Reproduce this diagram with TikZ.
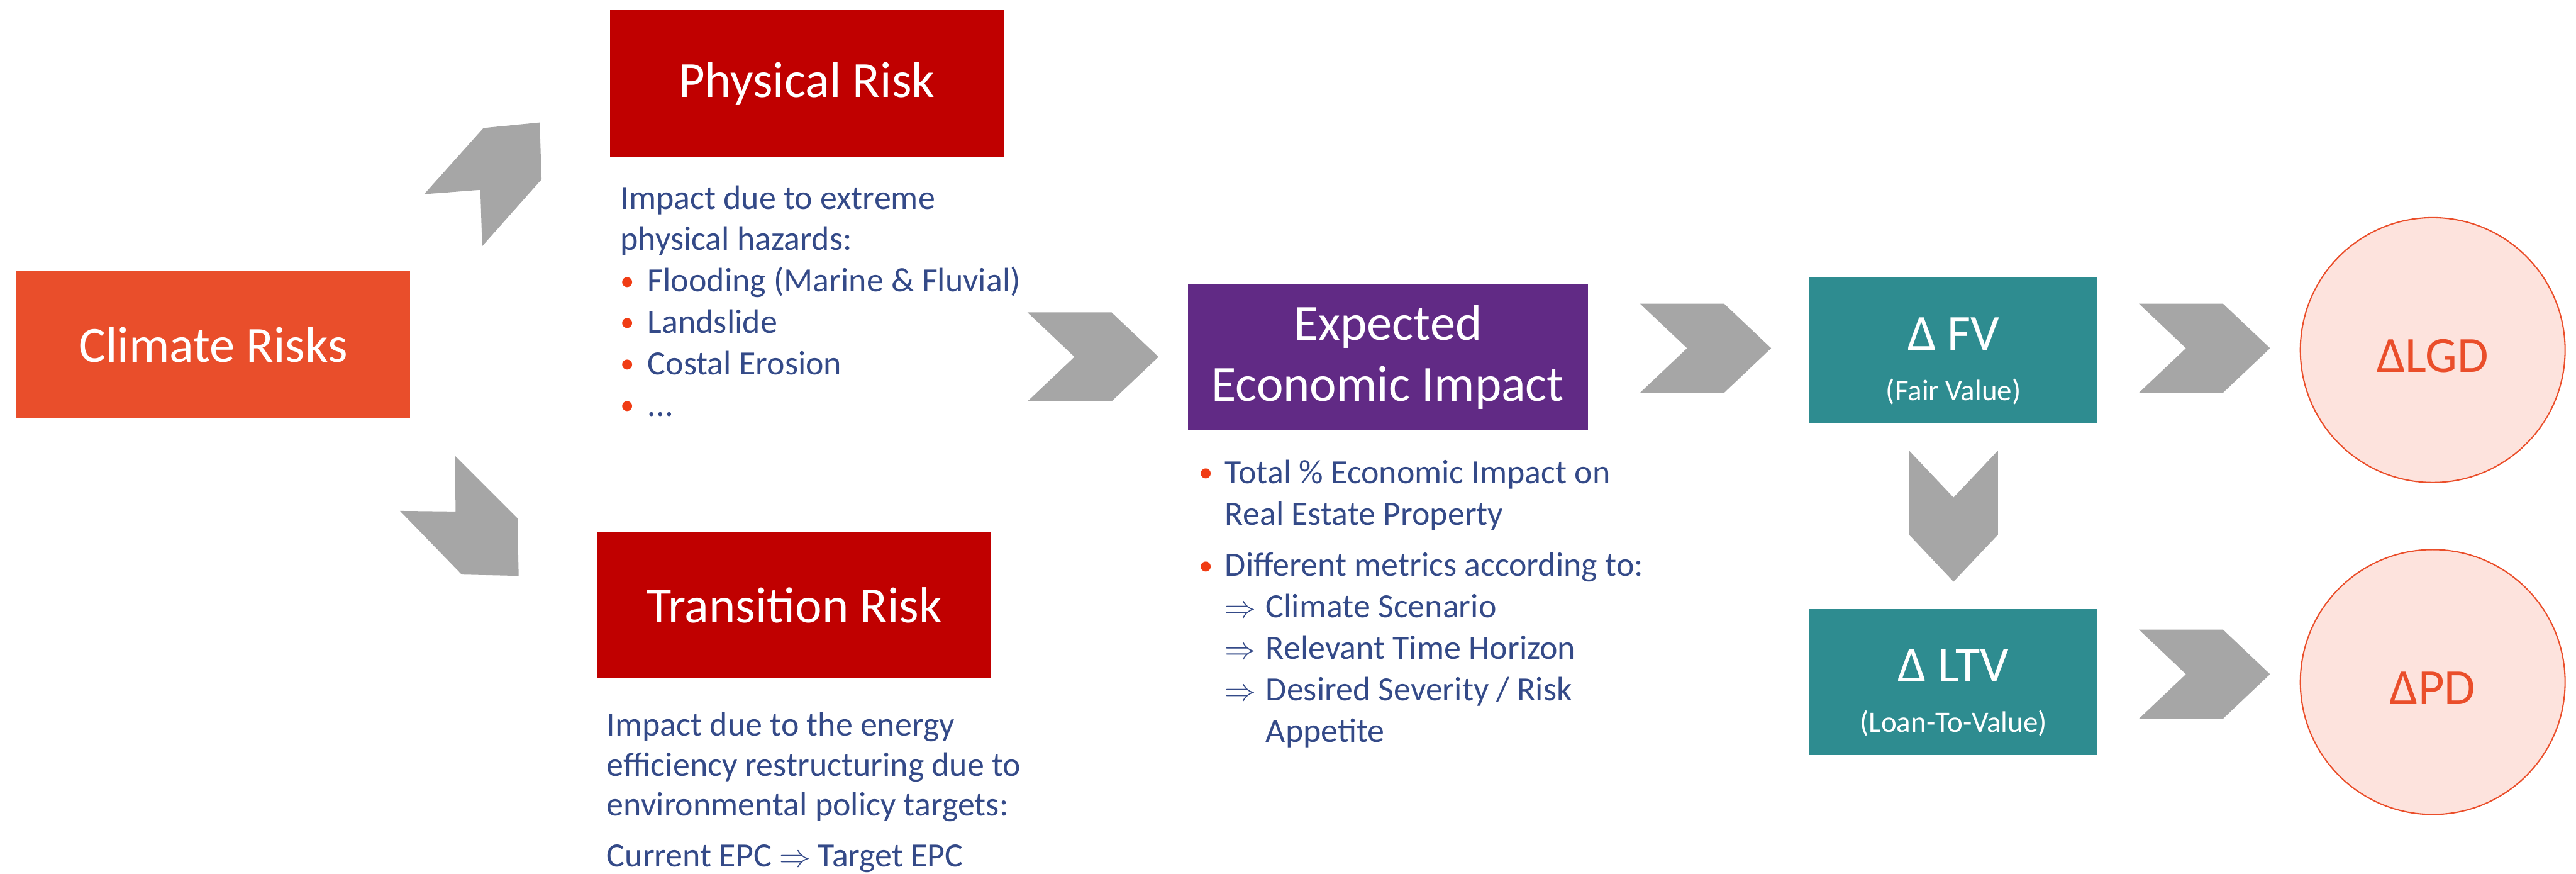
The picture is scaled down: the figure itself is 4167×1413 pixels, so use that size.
\documentclass[tikz,border=0pt]{standalone}
\usepackage{fontspec}
\setmainfont{Carlito}
\usetikzlibrary{positioning, calc}

\definecolor{climred}{HTML}{E94E2B}
\definecolor{riskred}{HTML}{C00000}
\definecolor{impurple}{HTML}{612A85}
\definecolor{valteal}{HTML}{2E8C90}
\definecolor{chevgray}{HTML}{A6A6A6}
\definecolor{txtblue}{HTML}{344A88}
\definecolor{dotred}{HTML}{F03C14}
\definecolor{cfill}{HTML}{FDE3DD}
\definecolor{cline}{HTML}{EA4E2A}

\newcommand{\titlefont}{\fontsize{23.3}{28}\selectfont}
\newcommand{\bodyfont}{\fontsize{15.6}{19.06}\selectfont}
\newcommand{\notefont}{\fontsize{13.6}{16}\selectfont}
\newcommand{\bul}[1][0.44cm]{\makebox[#1][l]{\raisebox{0.8pt}{\textcolor{dotred}{\fontsize{13}{13}\selectfont\textbullet}}}}
\newcommand{\impl}{\makebox[0.66cm][l]{$\Rightarrow$}}

\begin{document}
\begin{tikzpicture}[x=0.01cm, y=-0.01cm,
	box/.style={fill=#1, text=white, font=\titlefont, minimum width=6.36cm, minimum height=2.37cm, align=center, inner sep=0pt},
	valbox/.style={fill=valteal, text=white, font=\titlefont, minimum width=4.66cm, minimum height=2.36cm, text height=0.5cm, text depth=0.5cm, inner sep=0pt},
	valnote/.style={font=\notefont, text=white, anchor=base, yshift=-0.67cm},
	riskcircle/.style={circle, draw=cline, line width=0.6pt, fill=cfill, text=cline, font=\titlefont, minimum size=4.28cm, text height=0.72cm, text depth=0cm, inner sep=0pt},
	note/.style={text=txtblue, font=\bodyfont, align=left, inner sep=0pt, anchor=north west},
	chevron/.pic={\fill[chevgray] (-106,72) -- (30,72) -- (106,0) -- (30,-72) -- (-106,-72) -- (-30,0) -- cycle;}]

	\useasboundingbox (0,0) rectangle (4167,1413);

	% Risk boxes
	\node[box=climred] (climate) at (345,557) {Climate Risks};
	\node[box=riskred] (phys) at (1305,135) {Physical Risk};
	\node[box=riskred] (trans) at (1285,978) {Transition Risk};
	\node[box=impurple, minimum width=6.47cm] (eei) at (2245,577) {Expected\\Economic Impact};

	% Value boxes and credit parameters
	\node[valbox, label={[valnote]center:(Fair Value)}] (fv) at (3160,566) {Δ FV};
	\node[valbox, below=2.99cm of fv, label={[valnote]center:(Loan-To-Value)}] (ltv) {Δ LTV};
	\node[riskcircle, right=3.26cm of fv] (lgd) {ΔLGD};
	\node[riskcircle, right=3.26cm of ltv] (pd) {ΔPD};

	% Descriptions
	\node[note] (phys_txt) at (1003,299) {Impact due to extreme\\physical hazards:\\\bul Flooding (Marine \& Fluvial)\\\bul Landslide\\\bul Costal Erosion\\\bul ...};
	\node[note, font=\fontsize{15.6}{18.4}\selectfont] (trans_txt) at (981,1151) {Impact due to the energy\\efficiency restructuring due to\\environmental policy targets:\\[5pt]Current EPC $\Rightarrow$ Target EPC};
	\node[note] (eei_txt) at (1939,743) {\bul[0.42cm]Total \% Economic Impact on\\\hspace*{0.42cm}Real Estate Property\\[4.5pt]\bul[0.42cm]Different metrics according to:\\\hspace*{0.42cm}\impl Climate Scenario\\\hspace*{0.42cm}\impl Relevant Time Horizon\\\hspace*{0.42cm}\impl Desired Severity / Risk\\\hspace*{1.08cm}Appetite};

	% Chevrons from climate risks to both branches
	\fill[chevgray] (686,314) -- (782,207) -- (873,198) -- (876,290) -- (780,398) -- (777,307) -- cycle;
	\fill[chevgray] (736,737) -- (837,838) -- (839,931) -- (747,929) -- (647,826) -- (737,827) -- cycle;

	% Chevrons along the chain
	\pic at (1768,577) {chevron};
	\pic at (2759,563) {chevron};
	\pic at (3566,563) {chevron};
	\pic at (3566,1090) {chevron};
	\pic[rotate=-90] at ($(fv.south)!0.5!(ltv.north)$) {chevron};
\end{tikzpicture}
\end{document}
